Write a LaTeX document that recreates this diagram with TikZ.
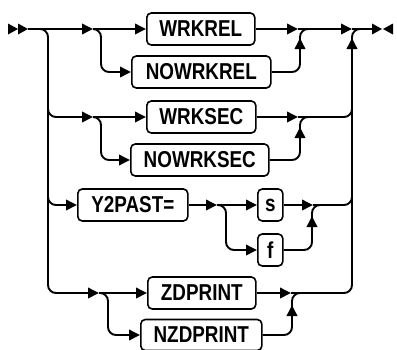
\documentclass[tikz,border=0pt]{standalone}
\usepackage{fontspec}
\newfontfamily\railfont[FakeStretch=0.82]{Liberation Sans}
\usetikzlibrary{arrows.meta}
\tikzset{
  kw/.style={draw, line width=1.6pt, rounded corners=4.5pt, anchor=west,
    minimum height=32pt, inner sep=0pt, font=\railfont\fontsize{23}{23}\selectfont\bfseries},
  rail/.style={line width=1.9pt, rounded corners=8pt},
  >={Triangle[length=11pt,width=10.5pt]}
}
\begin{document}
\begin{tikzpicture}[x=1pt, y=-1pt]
\useasboundingbox (0,0) rectangle (397,349);

\node[kw, minimum width=108pt] (wrkrel) at (146,29) {WRKREL};
\node[kw, minimum width=139pt] (nowrkrel) at (131,72) {NOWRKREL};
\node[kw, minimum width=109pt] (wrksec) at (146,117) {WRKSEC};
\node[kw, minimum width=138pt] (nowrksec) at (130,160) {NOWRKSEC};
\node[kw, minimum width=110pt] (ytwopast) at (77,205) {Y2PAST=};
\node[kw, minimum width=25pt] (sopt) at (257,205) {s};
\node[kw, minimum width=25pt] (fopt) at (257,250) {f};
\node[kw, minimum width=108pt] (zdprint) at (147,293) {ZDPRINT};
\node[kw, minimum width=121pt, minimum height=31pt] (nzdprint) at (140,335) {NZDPRINT};

% start and end marks
\fill (8,23.5) -- (18,29) -- (8,34.5) -- cycle;
\fill (18,23.5) -- (28,29) -- (18,34.5) -- cycle;
\fill (372,23.5) -- (382,29) -- (372,34.5) -- cycle;
\fill (393,23.5) -- (383,29) -- (393,34.5) -- cycle;

% left side
\draw[rail,->] (28,29) -- (93,29);
\draw[rail,->] (93,29) -- (wrkrel.west);
\draw[rail,->] (93,29) -- (101,29) -- (101,72) -- (nowrkrel.west);
\draw[rail,->] (40,29) -- (48,29) -- (48,293) -- (99,293);
\draw[rail,->] (99,293) -- (zdprint.west);
\draw[rail,->] (99,293) -- (108,293) -- (108,335) -- (nzdprint.west);
\draw[rail,->] (48,100) -- (48,117) -- (93,117);
\draw[rail,->] (93,117) -- (wrksec.west);
\draw[rail,->] (93,117) -- (101,117) -- (101,160) -- (nowrksec.west);
\draw[rail,->] (48,190) -- (48,205) -- (ytwopast.west);
\draw[rail,->] (ytwopast.east) -- (217,205);
\draw[rail,->] (217,205) -- (sopt.west);
\draw[rail,->] (217,205) -- (226,205) -- (226,250) -- (fopt.west);

% right side
\draw[rail,->] (wrkrel.east) -- (298,29);
\draw[rail] (nowrkrel.east) -- (300,72) -- (300,29) -- (310,29);
\draw[rail,->] (300,55) -- (300,38);
\draw[rail,->] (298,29) -- (352,29);
\draw[rail] (352,29) -- (372,29);

\draw[rail,->] (wrksec.east) -- (298,117);
\draw[rail] (nowrksec.east) -- (300,160) -- (300,117) -- (310,117);
\draw[rail,->] (300,143) -- (300,127);
\draw[rail] (298,117) -- (352,117) -- (352,105);

\draw[rail,->] (sopt.east) -- (313,205);
\draw[rail] (fopt.east) -- (312,250) -- (312,205) -- (322,205);
\draw[rail,->] (312,232) -- (312,216);
\draw[rail] (313,205) -- (352,205) -- (352,190);

\draw[rail,->] (zdprint.east) -- (291,293);
\draw[rail] (nzdprint.east) -- (292,335) -- (292,293) -- (302,293);
\draw[rail,->] (292,318) -- (292,305);
\draw[rail] (291,293) -- (352,293) -- (352,29) -- (362,29);
\draw[rail,->] (352,62) -- (352,38);
\end{tikzpicture}
\end{document}
